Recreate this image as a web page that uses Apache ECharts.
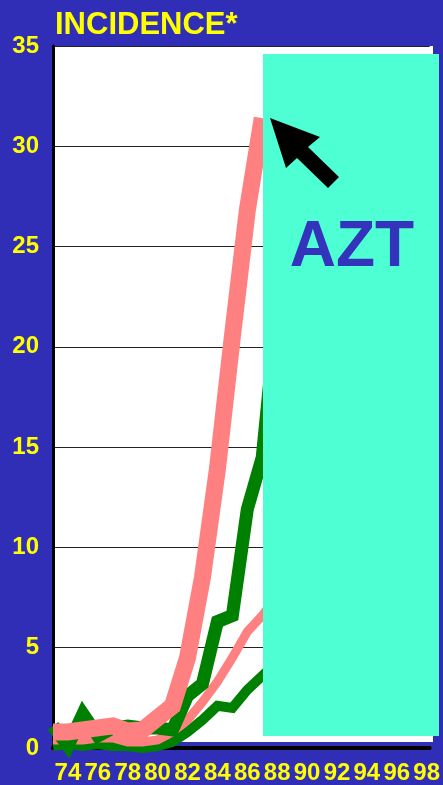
<!DOCTYPE html>
<html>
<head>
<meta charset="utf-8">
<script src="https://cdn.jsdelivr.net/npm/echarts@6/dist/echarts.min.js"></script>
<style>
  html, body { margin: 0; padding: 0; background: #302eb6; }
  #main { width: 443px; height: 785px; }
</style>
</head>
<body>
<div id="main"></div>
<script>
// years shown on the x axis (19xx)
var years = [73, 74, 75, 76, 77, 78, 79, 80, 81, 82, 83, 84, 85, 86, 87, 88];

// incidence (values after 87 sit under the AZT box)
var salmonThick = [0.8, 0.8, 0.9, 1.0, 1.1, 0.85, 0.9, 1.5, 2.1, 4.5, 8.5, 13.9, 20.5, 26.8, 31.4, null];
var greenThick  = [1.1, 0.1, 1.7, 0.6, 1.0, 1.1, 1.0, 1.0, 0.9, 2.6, 3.2, 6.3, 6.6, 11.9, 14.5, 22];
var salmonThin  = [0.4, 0.4, 0.4, 0.5, 0.5, 0.3, 0.3, 0.4, 0.8, 1.4, 2.3, 3.3, 4.5, 5.8, 6.6, 7.6];
var greenThin   = [0.1, 0.2, 0.1, 0.2, 0.1, 0.1, 0.0, 0.1, 0.3, 0.8, 1.4, 2.1, 2.0, 2.9, 3.6, 4.3];

var yTicks = [0, 5, 10, 15, 20, 25, 30, 35];

var FONT = '"Liberation Sans", Arial, sans-serif';
var YELLOW = '#ffff00';

function pairs(vals) {
  var out = [];
  for (var i = 0; i < years.length; i++) {
    out.push([years[i], vals[i]]);
  }
  return out;
}

function lineSerie(vals, color, width) {
  return {
    type: 'line',
    data: pairs(vals),
    symbol: 'none',
    clip: false,
    connectNulls: false,
    lineStyle: { color: color, width: width, join: 'miter', cap: 'butt' }
  };
}

var option = {
  backgroundColor: '#302eb6',
  animation: false,
  grid: { left: 53, right: 10, top: 46, bottom: 37 },
  xAxis: {
    type: 'value',
    min: 73,
    max: 98.2,
    interval: 1,
    axisLine: { show: true, lineStyle: { color: '#000', width: 4 } },
    axisTick: { show: false },
    splitLine: { show: false },
    axisLabel: {
      color: YELLOW,
      fontFamily: FONT,
      fontWeight: 'bold',
      fontSize: 24,
      margin: 13,
      showMaxLabel: false,
      formatter: function (v) {
        return (Math.abs(v - Math.round(v)) < 1e-6 && Math.round(v) % 2 === 0) ? String(Math.round(v)) : '';
      }
    }
  },
  yAxis: {
    type: 'value',
    min: yTicks[0],
    max: yTicks[yTicks.length - 1],
    interval: 5,
    axisLine: { show: true, lineStyle: { color: '#000', width: 3 } },
    axisTick: { show: false },
    splitLine: { show: true, lineStyle: { color: '#222', width: 1 } },
    axisLabel: {
      color: YELLOW,
      fontFamily: FONT,
      fontWeight: 'bold',
      fontSize: 24,
      margin: 14
    }
  },
  series: [
    lineSerie(greenThin, '#008000', 10),
    lineSerie(salmonThin, '#ff8080', 9),
    lineSerie(greenThick, '#008000', 13),
    lineSerie(salmonThick, '#ff8080', 17)
  ],
  graphic: [
    // white plot panel (stops a little above the axis line)
    { type: 'rect', z: -10, shape: { x: 53, y: 46, width: 380, height: 696 }, style: { fill: '#fff' } },
    { type: 'text', z: 10, style: { text: 'INCIDENCE*', x: 55, y: 25, fill: YELLOW,
        font: 'bold 31px ' + FONT, textVerticalAlign: 'middle' } },
    // the AZT box over the later years
    { type: 'rect', z: 100, shape: { x: 263, y: 54, width: 176, height: 682 }, style: { fill: '#4effd3' } },
    { type: 'text', z: 101, style: { text: 'AZT', x: 352, y: 248, fill: '#3333bb',
        font: 'bold 64px ' + FONT, textAlign: 'center', textVerticalAlign: 'middle' } },
    { type: 'polygon', z: 101,
      shape: { points: [[270, 118], [320, 137], [308, 147], [339, 177], [328, 188], [297, 158], [286, 168]] },
      style: { fill: '#000' } }
  ]
};

var chart = echarts.init(document.getElementById('main'), null, { renderer: 'canvas' });
chart.setOption(option);
</script>
</body>
</html>
